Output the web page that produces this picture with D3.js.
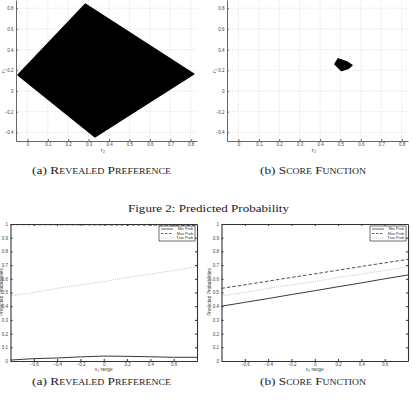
<!DOCTYPE html>
<html>
<head>
<meta charset="utf-8">
<script src="https://cdn.jsdelivr.net/npm/d3@7"></script>
<style>
  body { margin: 0; background: #fff; }
  svg { display: block; }
</style>
</head>
<body>
<svg id="fig" width="413" height="402"></svg>
<script>
// identified sets (r2, r1)
const revealedSet = [[-0.047, 0.155], [0.284, 0.84], [0.816, 0.164], [0.331, -0.444]];
const scoreSet = [[0.472, 0.261], [0.489, 0.312], [0.532, 0.283], [0.557, 0.248], [0.54, 0.219], [0.505, 0.196]];
const setXTicks = [0, 0.1, 0.2, 0.3, 0.4, 0.5, 0.6, 0.7, 0.8];
const setYTicks = [-0.4, -0.2, 0, 0.2, 0.4, 0.6, 0.8];

// predicted probabilities over x2 range
const x2Range = [-0.8, -0.6, -0.4, -0.2, 0, 0.2, 0.4, 0.6, 0.8];
const rpMin = [0.007, 0.017, 0.022, 0.03, 0.036, 0.034, 0.031, 0.027, 0.027];
const rpMax = [0.995, 0.995, 0.994, 0.994, 0.993, 0.993, 0.992, 0.991, 0.99];
const trueProb = [0.477, 0.5, 0.53, 0.555, 0.58, 0.61, 0.635, 0.66, 0.688];
const sfMin = [0.4, 0.428, 0.456, 0.485, 0.513, 0.542, 0.57, 0.6, 0.628];
const sfMax = [0.53, 0.556, 0.583, 0.61, 0.636, 0.663, 0.69, 0.716, 0.742];
const probXTicks = [-0.6, -0.4, -0.2, 0, 0.2, 0.4, 0.6];
const probYTicks = [0, 0.1, 0.2, 0.3, 0.4, 0.5, 0.6, 0.7, 0.8, 0.9, 1];
const legendNames = ["Min Prob", "Max Prob", "True Prob"];

const svg = d3.select("#fig");
const tickFont = "Liberation Sans, Arial, sans-serif";
const serif = "Liberation Serif, Times New Roman, serif";
const fmt = d => d3.format("")(+d.toFixed(1));

function setPanel(g, pts, xr) {
  const x = d3.scaleLinear().domain([-0.056, 0.831]).range(xr);
  const y = d3.scaleLinear().domain([-0.483, 0.879]).range([141, 0]);

  // dotted grid
  g.selectAll(".vg").data(setXTicks).enter().append("line")
    .attr("x1", d => x(d)).attr("x2", d => x(d)).attr("y1", 0).attr("y2", 141)
    .attr("stroke", "#c8c8c8").attr("stroke-width", 0.6).attr("stroke-dasharray", "1,1.6");
  g.selectAll(".hg").data(setYTicks).enter().append("line")
    .attr("x1", xr[0]).attr("x2", xr[1]).attr("y1", d => y(d)).attr("y2", d => y(d))
    .attr("stroke", "#c8c8c8").attr("stroke-width", 0.6).attr("stroke-dasharray", "1,1.6");

  g.append("path")
    .attr("d", d3.line().x(d => x(d[0])).y(d => y(d[1]))(pts) + "Z")
    .attr("fill", "#000").attr("stroke", "#000").attr("stroke-width", 1.2).attr("stroke-linejoin", "round");

  const xa = g.append("g").attr("transform", "translate(0,141)")
    .call(d3.axisBottom(x).tickValues(setXTicks).tickSizeInner(-2).tickSizeOuter(0).tickPadding(1.5).tickFormat(fmt));
  const ya = g.append("g").attr("transform", `translate(${xr[0]},0)`)
    .call(d3.axisLeft(y).tickValues(setYTicks).tickSizeInner(-2).tickSizeOuter(0).tickPadding(2.5).tickFormat(fmt));
  [xa, ya].forEach(a => {
    a.select(".domain").attr("stroke", "#666").attr("stroke-width", 1);
    a.selectAll(".tick line").attr("stroke", "#666");
    a.selectAll("text").attr("font-size", 4.5).attr("font-family", tickFont).attr("fill", "#444");
  });

  g.append("text").attr("x", x(0.37)).attr("y", 151.5).attr("text-anchor", "middle")
    .attr("font-size", 6).attr("font-family", tickFont).attr("fill", "#444").text("r₂");
  g.append("text").attr("transform", `translate(${xr[0] - 11},71) rotate(-90)`).attr("text-anchor", "middle")
    .attr("font-size", 6).attr("font-family", tickFont).attr("fill", "#444").text("r₁");
}

function probPanel(g, minV, maxV, xr, labelX) {
  const x = d3.scaleLinear().domain([-0.8, 0.8]).range(xr);
  const y = d3.scaleLinear().domain([0, 1]).range([361, 224]);
  const line = d3.line().x((d, i) => x(x2Range[i])).y(d => y(d));

  g.append("path").attr("d", line(trueProb)).attr("fill", "none")
    .attr("stroke", "#b4b4b4").attr("stroke-width", 0.8).attr("stroke-dasharray", "1,1.2");
  g.append("path").attr("d", line(maxV)).attr("fill", "none")
    .attr("stroke", "#222").attr("stroke-width", 0.8).attr("stroke-dasharray", "3.5,2");
  g.append("path").attr("d", line(minV)).attr("fill", "none")
    .attr("stroke", "#222").attr("stroke-width", 0.9);

  const xa = g.append("g").attr("transform", "translate(0,361)")
    .call(d3.axisBottom(x).tickValues(probXTicks).tickSizeInner(-2).tickSizeOuter(0).tickPadding(1.5).tickFormat(fmt));
  const ya = g.append("g").attr("transform", `translate(${xr[0]},0)`)
    .call(d3.axisLeft(y).tickValues(probYTicks).tickSizeInner(-2).tickSizeOuter(0).tickPadding(2.5).tickFormat(fmt));
  const xt = g.append("g").attr("transform", "translate(0,224)")
    .call(d3.axisTop(x).tickValues(probXTicks).tickSizeInner(-2).tickSizeOuter(0).tickFormat(""));
  const yr = g.append("g").attr("transform", `translate(${xr[1]},0)`)
    .call(d3.axisRight(y).tickValues(probYTicks).tickSizeInner(-2).tickSizeOuter(0).tickFormat(""));
  [xa, ya, xt, yr].forEach(a => {
    a.select(".domain").attr("stroke", "#333").attr("stroke-width", 1.1);
    a.selectAll(".tick line").attr("stroke", "#333");
    a.selectAll("text").attr("font-size", 4.5).attr("font-family", tickFont).attr("fill", "#444");
  });

  g.append("text").attr("x", x(0)).attr("y", 371).attr("text-anchor", "middle")
    .attr("font-size", 4.8).attr("font-family", tickFont).attr("fill", "#444").text("x₂ range");
  g.append("text").attr("transform", `translate(${labelX},292) rotate(-90)`).attr("text-anchor", "middle")
    .attr("font-size", 4.8).attr("font-family", tickFont).attr("fill", "#444").text("Predicted Probabilities");

  // legend
  const lx = xr[1] - 38, ly = 226;
  const lg = g.append("g");
  lg.append("rect").attr("x", lx).attr("y", ly).attr("width", 36).attr("height", 15)
    .attr("fill", "#fff").attr("stroke", "#333").attr("stroke-width", 0.7);
  const styles = [
    { c: "#222", dash: null },
    { c: "#222", dash: "2.5,1.5" },
    { c: "#b4b4b4", dash: "1,1" }
  ];
  legendNames.forEach((n, i) => {
    const yy = ly + 3 + i * 4.5;
    lg.append("line").attr("x1", lx + 2).attr("x2", lx + 14).attr("y1", yy).attr("y2", yy)
      .attr("stroke", styles[i].c).attr("stroke-width", 0.7).attr("stroke-dasharray", styles[i].dash);
    lg.append("text").attr("x", lx + 34).attr("y", yy + 1.4).attr("text-anchor", "end")
      .attr("font-size", 3.8).attr("font-family", tickFont).attr("fill", "#333").text(n);
  });
}

setPanel(svg.append("g"), revealedSet, [16, 197]);
setPanel(svg.append("g"), scoreSet, [227, 408]);
probPanel(svg.append("g"), rpMin, rpMax, [10.5, 197], 2.5);
probPanel(svg.append("g"), sfMin, sfMax, [221.5, 408], 210.5);

// captions: "(a) " in normal case, the title in small caps
function caption(lead, title, cx, cy, w) {
  const t = svg.append("text").attr("x", cx).attr("y", cy).attr("text-anchor", "middle")
    .attr("font-family", serif).attr("font-size", 11).attr("fill", "#222")
    .attr("textLength", w).attr("lengthAdjust", "spacingAndGlyphs");
  t.append("tspan").text(lead);
  if (title) t.append("tspan").attr("font-variant", "small-caps").style("font-variant", "small-caps").text(title);
}
caption("(a) ", "Revealed Preference", 101.5, 174, 139);
caption("(b) ", "Score Function", 313, 174, 106);
caption("Figure 2: Predicted Probability", null, 208.5, 212, 161);
caption("(a) ", "Revealed Preference", 101.5, 385, 139);
caption("(b) ", "Score Function", 313, 385, 106);
</script>
</body>
</html>
